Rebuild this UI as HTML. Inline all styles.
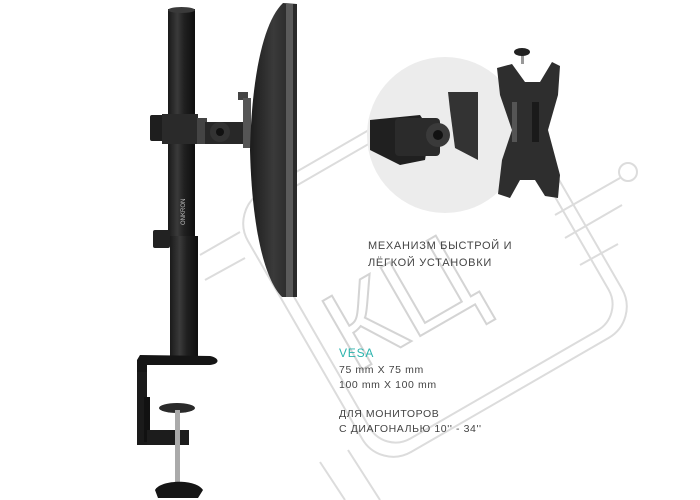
<!DOCTYPE html>
<html><head><meta charset="utf-8"><style>
html,body{margin:0;padding:0;background:#fff}
svg{display:block}
text{font-family:"Liberation Sans","DejaVu Sans",sans-serif}
</style></head><body>
<svg width="700" height="500" viewBox="0 0 700 500" xmlns="http://www.w3.org/2000/svg">
<defs>
<linearGradient id="pole" x1="0" x2="1"><stop offset="0" stop-color="#1a1a1a"/><stop offset="0.35" stop-color="#3a3a3a"/><stop offset="0.6" stop-color="#202020"/><stop offset="1" stop-color="#0e0e0e"/></linearGradient>
<linearGradient id="mon" x1="0" x2="1"><stop offset="0" stop-color="#1c1c1c"/><stop offset="0.5" stop-color="#3a3a3a"/><stop offset="1" stop-color="#222"/></linearGradient>
</defs>
<!-- watermark -->
<g fill="none" stroke="#dcdcdc" stroke-width="2">
<rect x="285" y="115" width="300" height="300" rx="36" transform="rotate(-30 435 265)"/>
<rect x="297" y="127" width="276" height="276" rx="30" transform="rotate(-30 435 265)"/>
<line x1="555" y1="215" x2="620" y2="178"/><circle cx="628" cy="172" r="9"/>
<line x1="565" y1="238" x2="622" y2="205"/>
<line x1="580" y1="265" x2="618" y2="244"/>
<line x1="348" y1="450" x2="380" y2="500"/><line x1="320" y1="462" x2="345" y2="500"/>
<line x1="200" y1="255" x2="240" y2="232"/><line x1="205" y1="280" x2="245" y2="258"/>
</g>
<text x="318" y="340" font-size="115" fill="none" stroke="#d4d4d4" stroke-width="2" transform="rotate(-30 400 290)">КЦ</text>
<!-- circle -->
<circle cx="445" cy="135" r="78" fill="#ececec"/>
<!-- mechanism -->
<path d="M370 120 L420 115 L430 130 L425 160 L400 165 L370 150 Z" fill="#202020"/>
<rect x="395" y="118" width="45" height="38" rx="4" fill="#2b2b2b"/>
<circle cx="438" cy="135" r="12" fill="#3a3a3a"/><circle cx="438" cy="135" r="5" fill="#111"/>
<path d="M448 92 L478 92 L478 160 L455 148 L450 110 Z" fill="#333"/>
<!-- VESA plate -->
<path d="M497 68 L512 64 L525 82 L540 82 L552 62 L560 66 L558 95 L548 130 L560 175 L558 198 L545 196 L535 180 L520 180 L510 198 L498 194 L502 160 L512 130 L500 95 Z" fill="#2e2e2e"/>
<rect x="512" y="102" width="5" height="40" fill="#555"/><rect x="532" y="102" width="7" height="40" fill="#1a1a1a"/>
<rect x="521" y="52" width="3" height="12" fill="#999"/><ellipse cx="522" cy="52" rx="8" ry="4" fill="#222"/>
<!-- pole -->
<rect x="168" y="9" width="27" height="230" fill="url(#pole)"/>
<ellipse cx="181.5" cy="10" rx="13.5" ry="3" fill="#3a3a3a"/>
<rect x="170" y="236" width="28" height="122" fill="url(#pole)"/>
<rect x="153" y="230" width="17" height="18" rx="2" fill="#222"/>
<text transform="translate(185 225) rotate(-90)" font-size="6" fill="#bbb">ONKRON</text>
<!-- clamp on pole -->
<rect x="150" y="115" width="15" height="26" rx="2" fill="#1e1e1e"/>
<rect x="162" y="114" width="36" height="30" fill="#2a2a2a"/>
<rect x="197" y="118" width="10" height="26" fill="#444"/>
<rect x="205" y="122" width="40" height="22" fill="#282828"/>
<circle cx="220" cy="132" r="10" fill="#333"/><circle cx="220" cy="132" r="4" fill="#111"/>
<rect x="238" y="92" width="10" height="8" fill="#444"/>
<rect x="243" y="98" width="8" height="50" fill="#555"/>
<!-- monitor -->
<path d="M283 3 L297 4 L297 297 L282 297 C265 280 252 230 250 150 C252 70 265 20 283 3 Z" fill="url(#mon)"/>
<rect x="286" y="4" width="11" height="293" fill="#5a5a5a"/>
<rect x="293" y="4" width="4" height="293" fill="#2a2a2a"/>
<!-- base & desk clamp -->
<path d="M140 355 L210 356 C220 358 220 364 210 365 L147 365 L147 372 L137 372 L137 360 Z" fill="#151515"/>
<rect x="137" y="372" width="10" height="73" fill="#1a1a1a"/>
<rect x="144" y="397" width="6" height="45" fill="#111"/>
<rect x="147" y="430" width="42" height="15" fill="#1c1c1c"/>
<ellipse cx="177" cy="408" rx="18" ry="5" fill="#2a2a2a"/>
<rect x="175" y="410" width="5" height="72" fill="#aaa"/>
<path d="M155 490 C160 480 195 478 203 490 L198 498 L158 498 Z" fill="#151515"/>
<!-- text -->
<g font-size="11" fill="#444" letter-spacing="0.7">
<text x="368" y="249">МЕХАНИЗМ БЫСТРОЙ И</text>
<text x="368" y="266">ЛЁГКОЙ УСТАНОВКИ</text>
</g>
<text x="339" y="357" font-size="12" fill="#2bb3ad" letter-spacing="0.8">VESA</text>
<g font-size="10.5" fill="#444" letter-spacing="0.6">
<text x="339" y="373">75 mm X 75 mm</text>
<text x="339" y="388">100 mm X 100 mm</text>
<text x="339" y="417">ДЛЯ МОНИТОРОВ</text>
<text x="339" y="432">С ДИАГОНАЛЬЮ 10'' - 34''</text>
</g>
</svg>
</body></html>
